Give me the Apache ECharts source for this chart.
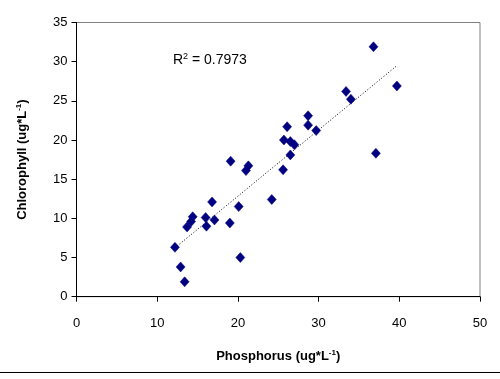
<!DOCTYPE html>
<html><head><meta charset="utf-8">
<script src="https://cdn.jsdelivr.net/npm/echarts@6/dist/echarts.min.js"></script>
<style>html,body{margin:0;padding:0;background:#fff}#c{width:500px;height:379px}</style>
</head><body><div id="c"></div>
<script>
const phosphorus = [12.2,12.9,13.4,13.7,14.4,14.2,16.0,16.1,17.1,16.8,19.0,20.3,20.1,19.1,21.0,21.3,24.2,26.5,25.6,37.1,36.8,39.7,33.4,34.0,28.7,28.7,26.1,29.7,25.7,26.5,27.0];
const chlorophyll = [6.3,3.8,1.9,8.9,10.2,9.6,10.1,9.0,9.8,12.1,9.4,5.0,11.5,17.3,16.1,16.7,12.4,18.1,16.2,18.3,31.9,26.9,26.2,25.2,23.1,21.9,21.7,21.2,20.0,19.8,19.4];
const xTicks = [0,10,20,30,40,50];
const yTicks = [0,5,10,15,20,25,30,35];
const r2Label = '0.7973';

const pts = phosphorus.map((x,i)=>[x,chlorophyll[i]]);
// least squares trendline from the data
const n = pts.length;
let sx=0,sy=0,sxx=0,sxy=0;
pts.forEach(([x,y])=>{sx+=x;sy+=y;sxx+=x*x;sxy+=x*y;});
const slope=(n*sxy-sx*sy)/(n*sxx-sx*sx), icpt=(sy-slope*sx)/n;
const xmin=Math.min(...phosphorus), xmax=Math.max(...phosphorus);
const trend=[[xmin,slope*xmin+icpt],[xmax,slope*xmax+icpt]];

const chart = echarts.init(document.getElementById('c'));
const font = 'Liberation Sans, Arial, sans-serif';
chart.setOption({
  animation:false,
  grid:{left:76.5,right:20,top:22.5,bottom:82.3,show:true,borderColor:'#808080',borderWidth:1},
  xAxis:{type:'value',min:xTicks[0],max:xTicks[xTicks.length-1],interval:10,
    axisLine:{show:true,onZero:false,lineStyle:{color:'#000',width:1}},
    axisTick:{show:true,inside:false,length:5,lineStyle:{color:'#000'}},
    splitLine:{show:false},
    axisLabel:{color:'#000',fontSize:13,fontFamily:font,margin:20},
    name:'{b|Phosphorus (ug*L}{s|-1}{b|)}',nameLocation:'middle',nameGap:52,
    nameTextStyle:{rich:{b:{fontSize:13,fontWeight:'bold',fontFamily:font,color:'#000'},s:{fontSize:8,fontWeight:'bold',fontFamily:font,color:'#000',verticalAlign:'top',padding:[0,0,8,0]}}}
  },
  yAxis:{type:'value',min:yTicks[0],max:yTicks[yTicks.length-1],interval:5,
    axisLine:{show:true,onZero:false,lineStyle:{color:'#000',width:1}},
    axisTick:{show:true,inside:false,length:5,lineStyle:{color:'#000'}},
    splitLine:{show:false},
    axisLabel:{color:'#000',fontSize:13,fontFamily:font,margin:9},
    name:'{b|Chlorophyll (ug*L}{s|-1}{b|)}',nameLocation:'middle',nameGap:46,
    nameTextStyle:{rich:{b:{fontSize:13,fontWeight:'bold',fontFamily:font,color:'#000'},s:{fontSize:8,fontWeight:'bold',fontFamily:font,color:'#000',verticalAlign:'top',padding:[0,0,8,0]}}}
  },
  series:[
    {type:'line',data:trend,symbol:'none',silent:true,z:1,
     lineStyle:{color:'#000',width:1,type:[1,2]}},
    {type:'scatter',data:pts,symbol:'diamond',symbolSize:[9,10],z:2,
     itemStyle:{color:'#000080',opacity:1,borderColor:'#000080',borderWidth:0.5}}
  ],
  graphic:[
    {type:'text',left:173,top:52,style:{text:'{a|R}{s|2}{a| = '+r2Label+'}',
      rich:{a:{fontSize:14,fontFamily:font,fill:'#000'},s:{fontSize:9,fontFamily:font,fill:'#000',verticalAlign:'top',padding:[0,0,8,0]}}}},
    {type:'line',shape:{x1:0,y1:372.5,x2:500,y2:372.5},style:{stroke:'#000',lineWidth:1}}
  ]
});
</script></body></html>
